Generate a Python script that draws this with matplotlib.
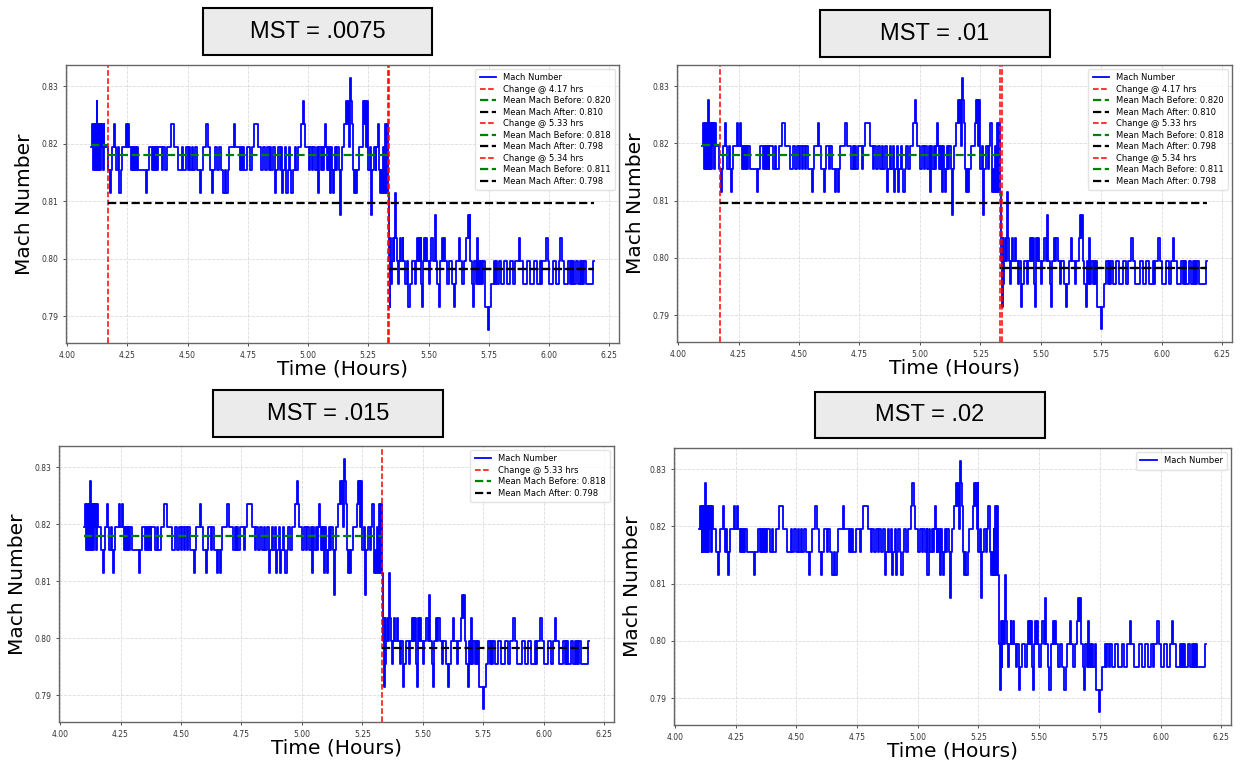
import matplotlib
matplotlib.use("Agg")
import matplotlib.pyplot as plt
from matplotlib.patches import Rectangle

# ---------------- data ----------------
seg_start_hours = [
    4.100, 4.104, 4.107, 4.109, 4.112, 4.114, 4.117, 4.119, 4.121, 4.123,
    4.126, 4.128, 4.131, 4.134, 4.137, 4.140, 4.143, 4.146, 4.149, 4.152,
    4.155, 4.170, 4.178, 4.183, 4.187, 4.196, 4.200, 4.204, 4.210, 4.214,
    4.217, 4.222, 4.227, 4.243, 4.247, 4.255, 4.259, 4.266, 4.270, 4.273,
    4.276, 4.279, 4.283, 4.286, 4.290, 4.296, 4.326, 4.331, 4.340, 4.352,
    4.356, 4.360, 4.364, 4.367, 4.371, 4.374, 4.378, 4.392, 4.400, 4.405,
    4.416, 4.430, 4.443, 4.462, 4.476, 4.482, 4.492, 4.500, 4.506, 4.512,
    4.518, 4.524, 4.530, 4.538, 4.552, 4.557, 4.563, 4.578, 4.583, 4.592,
    4.602, 4.607, 4.612, 4.624, 4.630, 4.638, 4.648, 4.655, 4.660, 4.666,
    4.670, 4.692, 4.697, 4.716, 4.722, 4.726, 4.730, 4.734, 4.746, 4.760,
    4.766, 4.775, 4.793, 4.806, 4.812, 4.820, 4.828, 4.836, 4.842, 4.848,
    4.856, 4.864, 4.869, 4.876, 4.882, 4.888, 4.893, 4.898, 4.905, 4.910,
    4.915, 4.920, 4.925, 4.930, 4.938, 4.944, 4.952, 4.958, 4.970, 4.978,
    4.983, 4.988, 5.002, 5.010, 5.016, 5.022, 5.030, 5.036, 5.040, 5.045,
    5.052, 5.058, 5.063, 5.066, 5.070, 5.075, 5.078, 5.081, 5.084, 5.087,
    5.090, 5.094, 5.097, 5.100, 5.104, 5.108, 5.112, 5.116, 5.122, 5.128,
    5.132, 5.136, 5.142, 5.150, 5.158, 5.162, 5.166, 5.170, 5.174, 5.178,
    5.182, 5.186, 5.192, 5.196, 5.200, 5.205, 5.210, 5.226, 5.230, 5.234,
    5.238, 5.242, 5.246, 5.250, 5.256, 5.262, 5.266, 5.272, 5.280, 5.284,
    5.290, 5.296, 5.300, 5.304, 5.308, 5.312, 5.316, 5.320, 5.324, 5.328,
    5.332, 5.336, 5.339, 5.342, 5.345, 5.348, 5.352, 5.355, 5.358, 5.361,
    5.364, 5.368, 5.372, 5.376, 5.382, 5.386, 5.392, 5.396, 5.404, 5.410,
    5.416, 5.422, 5.430, 5.442, 5.448, 5.454, 5.458, 5.461, 5.464, 5.467,
    5.470, 5.474, 5.478, 5.482, 5.486, 5.490, 5.494, 5.500, 5.506, 5.512,
    5.520, 5.526, 5.530, 5.536, 5.542, 5.548, 5.556, 5.560, 5.564, 5.570,
    5.578, 5.584, 5.596, 5.604, 5.610, 5.616, 5.626, 5.630, 5.640, 5.646,
    5.656, 5.662, 5.666, 5.670, 5.674, 5.680, 5.686, 5.690, 5.696, 5.700,
    5.704, 5.708, 5.714, 5.718, 5.722, 5.728, 5.734, 5.748, 5.752, 5.760,
    5.770, 5.776, 5.780, 5.786, 5.792, 5.800, 5.812, 5.824, 5.840, 5.850,
    5.860, 5.874, 5.880, 5.890, 5.910, 5.922, 5.936, 5.948, 5.962, 5.968,
    5.972, 5.986, 5.994, 6.000, 6.016, 6.028, 6.040, 6.046, 6.052, 6.062,
    6.080, 6.086, 6.090, 6.094, 6.098, 6.102, 6.112, 6.122, 6.130, 6.134,
    6.138, 6.142, 6.146, 6.152, 6.182,
]
seg_mach = [
    0.8195, 0.8235, 0.8195, 0.8155, 0.8235, 0.8155, 0.8195, 0.8235, 0.8155, 0.8275,
    0.8155, 0.8235, 0.8155, 0.8235, 0.8155, 0.8235, 0.8195, 0.8235, 0.8155, 0.8235,
    0.8195, 0.8155, 0.8115, 0.8155, 0.8195, 0.8235, 0.8195, 0.8155, 0.8195, 0.8155,
    0.8115, 0.8155, 0.8195, 0.8235, 0.8195, 0.8235, 0.8195, 0.8155, 0.8195, 0.8155,
    0.8195, 0.8155, 0.8195, 0.8155, 0.8195, 0.8155, 0.8115, 0.8155, 0.8195, 0.8155,
    0.8195, 0.8155, 0.8195, 0.8155, 0.8195, 0.8155, 0.8195, 0.8155, 0.8195, 0.8155,
    0.8195, 0.8235, 0.8195, 0.8155, 0.8195, 0.8155, 0.8195, 0.8155, 0.8195, 0.8155,
    0.8195, 0.8155, 0.8195, 0.8155, 0.8115, 0.8155, 0.8195, 0.8235, 0.8195, 0.8155,
    0.8115, 0.8155, 0.8195, 0.8155, 0.8195, 0.8155, 0.8115, 0.8155, 0.8115, 0.8155,
    0.8195, 0.8235, 0.8195, 0.8155, 0.8195, 0.8155, 0.8195, 0.8155, 0.8195, 0.8155,
    0.8195, 0.8235, 0.8195, 0.8155, 0.8195, 0.8155, 0.8195, 0.8155, 0.8195, 0.8155,
    0.8195, 0.8115, 0.8155, 0.8195, 0.8155, 0.8195, 0.8115, 0.8155, 0.8195, 0.8115,
    0.8155, 0.8195, 0.8155, 0.8115, 0.8155, 0.8195, 0.8155, 0.8195, 0.8235, 0.8275,
    0.8235, 0.8195, 0.8155, 0.8195, 0.8155, 0.8195, 0.8155, 0.8195, 0.8115, 0.8195,
    0.8155, 0.8195, 0.8155, 0.8195, 0.8235, 0.8195, 0.8155, 0.8195, 0.8155, 0.8195,
    0.8115, 0.8155, 0.8195, 0.8155, 0.8115, 0.8155, 0.8195, 0.8155, 0.8195, 0.8155,
    0.8075, 0.8155, 0.8195, 0.8235, 0.8275, 0.8235, 0.8275, 0.8195, 0.8315, 0.8275,
    0.8235, 0.8155, 0.8115, 0.8155, 0.8115, 0.8155, 0.8195, 0.8235, 0.8275, 0.8235,
    0.8275, 0.8195, 0.8275, 0.8155, 0.8195, 0.8075, 0.8155, 0.8195, 0.8155, 0.8195,
    0.8235, 0.8155, 0.8115, 0.8155, 0.8115, 0.8195, 0.8115, 0.8235, 0.8115, 0.8235,
    0.8115, 0.7995, 0.7915, 0.8035, 0.7955, 0.7995, 0.8035, 0.7995, 0.8035, 0.8115,
    0.8035, 0.7995, 0.7955, 0.7995, 0.8035, 0.7995, 0.8035, 0.7995, 0.7955, 0.7995,
    0.7915, 0.7955, 0.7995, 0.7955, 0.7995, 0.8035, 0.7995, 0.8035, 0.7995, 0.8035,
    0.7955, 0.7915, 0.7995, 0.8035, 0.7995, 0.8035, 0.7995, 0.7955, 0.7995, 0.8035,
    0.7995, 0.8075, 0.7995, 0.7955, 0.7915, 0.7995, 0.8035, 0.7995, 0.8035, 0.7995,
    0.7955, 0.7995, 0.7955, 0.7915, 0.7955, 0.7995, 0.8035, 0.7995, 0.7955, 0.7995,
    0.8035, 0.8075, 0.8035, 0.8075, 0.7995, 0.7955, 0.7915, 0.7995, 0.7955, 0.8035,
    0.7955, 0.7995, 0.7955, 0.7995, 0.7955, 0.7995, 0.7915, 0.7875, 0.7915, 0.7955,
    0.7995, 0.7955, 0.7995, 0.7955, 0.7995, 0.7955, 0.7995, 0.7955, 0.7995, 0.7955,
    0.7995, 0.8035, 0.7995, 0.7955, 0.7995, 0.7955, 0.7995, 0.7955, 0.7995, 0.7955,
    0.7995, 0.8035, 0.7995, 0.7955, 0.7995, 0.7955, 0.7995, 0.8035, 0.7995, 0.7955,
    0.7995, 0.7955, 0.7995, 0.7955, 0.7995, 0.7955, 0.7995, 0.7955, 0.7995, 0.7955,
    0.7995, 0.7955, 0.7995, 0.7955, 0.7995,
]
end_hour = 6.186

panel_titles = ["MST = .0075", "MST = .01", "MST = .015", "MST = .02"]

# detected change points per panel and the segment means around them
change_hours_0075 = [4.172, 5.333, 5.338]
mean_before_0075 = [0.8198, 0.8180, 0.8110]
mean_after_0075 = [0.8096, 0.7982, 0.7982]

change_hours_01 = [4.172, 5.333, 5.338]
mean_before_01 = [0.8198, 0.8180, 0.8110]
mean_after_01 = [0.8096, 0.7982, 0.7982]

change_hours_015 = [5.333]
mean_before_015 = [0.8180]
mean_after_015 = [0.7982]

change_hours_02 = []
mean_before_02 = []
mean_after_02 = []

panel_changes = [
    (change_hours_0075, mean_before_0075, mean_after_0075),
    (change_hours_01, mean_before_01, mean_after_01),
    (change_hours_015, mean_before_015, mean_after_015),
    (change_hours_02, mean_before_02, mean_after_02),
]

# ---------------- layout (pixels) ----------------
W, H = 1241, 766
axes_px = [  # left, top, right, bottom
    (66, 65, 619, 343),
    (677, 65, 1232, 342),
    (59, 446, 614, 722),
    (674, 448, 1231, 725),
]
box_px = [  # left, top, right, bottom
    (203, 8, 432, 55),
    (820, 10, 1050, 57),
    (213, 390, 443, 437),
    (815, 392, 1045, 438),
]

fig = plt.figure(figsize=(W / 100, H / 100), dpi=100)
fig.patch.set_facecolor("white")

times = list(seg_start_hours) + [end_hour]
mach = list(seg_mach) + [seg_mach[-1]]

for i in range(4):
    l, t, r, b = axes_px[i]
    ax = fig.add_axes([l / W, 1 - b / H, (r - l) / W, (b - t) / H])
    ax.step(times, mach, where="post", color="blue", lw=1.3, label="Mach Number")

    ch, mb, ma = panel_changes[i]
    prev = seg_start_hours[0]
    for c, before, after in zip(ch, mb, ma):
        ax.axvline(c, color="red", ls="--", lw=1.1, label=f"Change @ {c:.2f} hrs")
        ax.hlines(before, prev, c, colors="green", linestyles="--", lw=1.6,
                  label=f"Mean Mach Before: {before:.3f}")
        ax.hlines(after, c, end_hour, colors="black", linestyles="--", lw=1.6,
                  label=f"Mean Mach After: {after:.3f}")
        prev = c

    ax.set_xticks([4.00, 4.25, 4.50, 4.75, 5.00, 5.25, 5.50, 5.75, 6.00, 6.25])
    ax.set_yticks([0.79, 0.80, 0.81, 0.82, 0.83])
    ax.xaxis.set_major_formatter(matplotlib.ticker.FormatStrFormatter("%.2f"))
    ax.yaxis.set_major_formatter(matplotlib.ticker.FormatStrFormatter("%.2f"))
    ax.tick_params(labelsize=5.5, length=2.5, width=0.6, colors="#333333", pad=3)
    ax.grid(True, ls="--", lw=0.6, color="#cccccc", alpha=0.7)
    for s in ax.spines.values():
        s.set_color("#666666")
        s.set_linewidth(1.0)
    ax.set_xlabel("Time (Hours)", fontsize=14.5, labelpad=0)
    ax.set_ylabel("Mach Number", fontsize=14.5, labelpad=5)
    leg = ax.legend(loc="upper right", fontsize=6, labelspacing=0.3,
                    handlelength=2.0, borderpad=0.5, framealpha=0.8)
    leg.get_frame().set_edgecolor("#dddddd")

    bl, bt, br, bb = box_px[i]
    fig.add_artist(Rectangle((bl / W, 1 - bb / H), (br - bl) / W, (bb - bt) / H,
                             transform=fig.transFigure, facecolor="#ebebeb",
                             edgecolor="black", lw=1.5))
    fig.text((bl + br) / 2 / W, 1 - (bt + bb) / 2 / H, panel_titles[i],
             ha="center", va="center", fontsize=17, family="Liberation Sans")

fig.savefig("out.png", dpi=100)
